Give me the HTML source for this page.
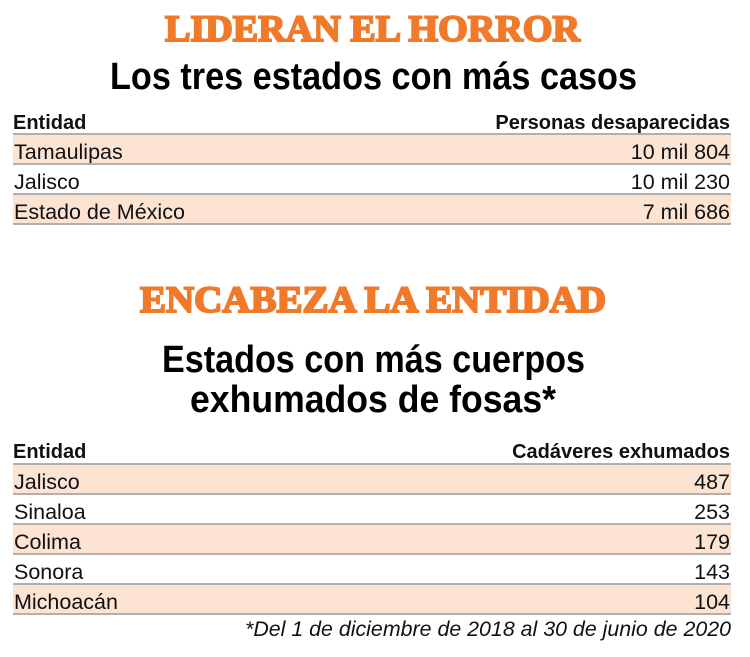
<!DOCTYPE html>
<html><head><meta charset="utf-8"><style>
html,body{margin:0;padding:0;background:#fff;width:750px;height:657px;overflow:hidden}
svg{display:block}
.or{font-family:"Liberation Serif",serif;font-weight:bold;fill:#f07a2a;stroke:#f07a2a;stroke-width:2}
.sub{font-family:"Liberation Sans",sans-serif;font-weight:bold;fill:#000}
.cell{font-family:"Liberation Sans",sans-serif;font-size:21.5px;fill:#111}
.hd{font-family:"Liberation Sans",sans-serif;font-size:20px;font-weight:bold;fill:#111}
</style></head><body>
<svg id="c" width="750" height="657">
<text class="or" x="165" y="41" font-size="37" textLength="415" lengthAdjust="spacingAndGlyphs">LIDERAN EL HORROR</text>
<text class="sub" x="110" y="89" font-size="38" textLength="527" lengthAdjust="spacingAndGlyphs">Los tres estados con más casos</text>
<text class="or" x="140" y="312" font-size="37" textLength="466" lengthAdjust="spacingAndGlyphs">ENCABEZA LA ENTIDAD</text>
<text class="sub" x="162" y="372" font-size="38" textLength="423" lengthAdjust="spacingAndGlyphs">Estados con más cuerpos</text>
<text class="sub" x="190" y="412" font-size="38" textLength="366" lengthAdjust="spacingAndGlyphs">exhumados de fosas*</text>
<g id="t1"></g>
<g id="t2"></g>
<text x="731" y="636" text-anchor="end" font-family="Liberation Sans,sans-serif" font-style="italic" font-size="21" textLength="486" lengthAdjust="spacingAndGlyphs" fill="#111">*Del 1 de diciembre de 2018 al 30 de junio de 2020</text>
</svg>
<script>
const states1 = ["Tamaulipas","Jalisco","Estado de México"];
const values1 = ["10 mil 804","10 mil 230","7 mil 686"];
const states2 = ["Jalisco","Sinaloa","Colima","Sonora","Michoacán"];
const values2 = ["487","253","179","143","104"];
const NS="http://www.w3.org/2000/svg";
function mk(g,tag,attrs,txt){const e=document.createElementNS(NS,tag);for(const k in attrs)e.setAttribute(k,attrs[k]);if(txt!=null)e.textContent=txt;g.appendChild(e);return e;}
function table(id,head2,states,vals,headY,lineY){
  const g=document.getElementById(id);
  const L=13,R=731,H=30;
  let t=mk(g,'text',{class:'hd',x:L,y:headY});t.textContent='Entidad';
  
  
  t=mk(g,'text',{class:'hd',x:R-1,y:headY,'text-anchor':'end'},head2);
  
  
  states.forEach((s,i)=>{
    const y=lineY+i*H;
    const r=mk(g,'rect',{x:L,y:y,width:R-L,height:H,fill:i%2===0?'#fce3d2':'#fff'});
    
    
    const a=mk(g,'text',{class:'cell',x:L+1,y:y+25},s);
    
    
    const b=mk(g,'text',{class:'cell',x:R-1,y:y+25,'text-anchor':'end'},vals[i]);
    
    
  });
  for(let i=0;i<=states.length;i++){
    const y=lineY+i*H;
    const l=mk(g,'line',{x1:L,x2:R,y1:y,y2:y,stroke:'#b0b0b0','stroke-width':2});
    
    
  }
}
table('t1','Personas desaparecidas',states1,values1,129,134);
table('t2','Cadáveres exhumados',states2,values2,458,464);
</script>
</body></html>
